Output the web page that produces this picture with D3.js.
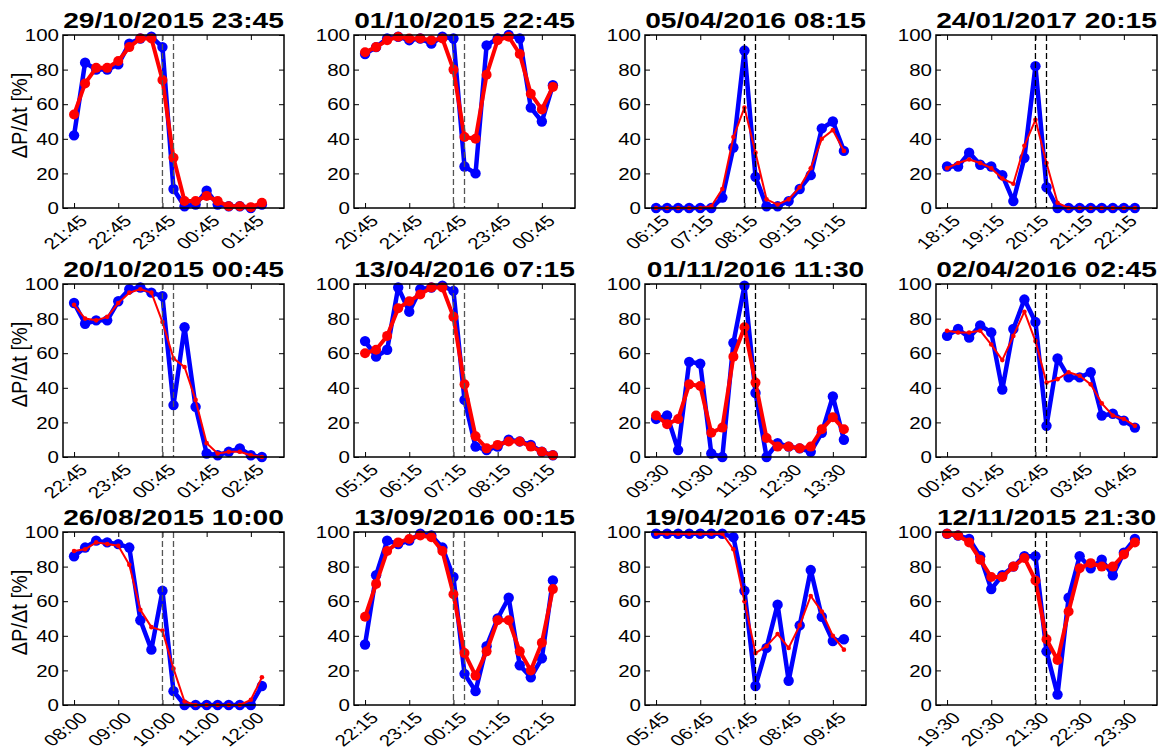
<!DOCTYPE html>
<html>
<head>
<meta charset="utf-8">
<script src="https://cdn.jsdelivr.net/npm/d3@7"></script>
<style>
  html, body { margin: 0; padding: 0; background: #fff; }
  svg { display: block; }
  text { font-family: "Liberation Sans", Arial, Helvetica, sans-serif; fill: #000; }
</style>
</head>
<body>
<svg id="chart" width="1158" height="753"></svg>
<script>
// ---------------- DATA ----------------
const titles = [
  "29/10/2015 23:45", "01/10/2015 22:45", "05/04/2016 08:15", "24/01/2017 20:15",
  "20/10/2015 00:45", "13/04/2016 07:15", "01/11/2016 11:30", "02/04/2016 02:45",
  "26/08/2015 10:00", "13/09/2016 00:15", "19/04/2016 07:45", "12/11/2015 21:30"
];
// time of the first sample in each panel (samples every 15 minutes)
const firstTimes = ["21:45","20:45","06:15","18:15","22:45","05:15","09:30","00:45","08:00","22:15","05:45","19:30"];
// index of the event (first dashed line); second dashed line is the next sample
const eventIndex = [8,8,8,8,8,8,8,8,8,8,8,8];
// red series drawn with thick line + big markers?
const redThick = [true,true,false,false,false,true,true,false,false,true,false,true];
const yTicks = [0,20,40,60,80,100];

const blue1  = [42,84,80,80,83,95,98,99,93,11,1,2,10,2,1,1,0,2];
const red1   = [54,72,81,81,85,93,98,98,74,29,4,4,7,4,1,1,0.5,3];
const blue2  = [89,93,98,99,97,98,95,99,98,24,20,94,98,100,98,58,50,71];
const red2   = [90,93,97,99,98,98,97,98,80,41,40,77,97,99,89,66,57,70];
const blue3  = [0,0,0,0,0,0,6,35,91,18,1,1,4,11,19,46,50,33];
const red3   = [0,0,0,0,0,1,11,41,58,32,5,2,5,12,23,40,45,33];
const blue4  = [24,24,32,25,24,19,4,29,82,12,0,0,0,0,0,0,0,0];
const red4   = [23,26,28,26,23,17,14,36,51,26,3,0,0,0,0,0,0,0];
const blue5  = [89,77,79,79,90,97,98,95,93,30,75,29,2,1,3,5,1,0];
const red5   = [88,80,79,81,89,95,97,95,78,57,52,33,8,2,3,3,1,0];
const blue6  = [67,58,62,98,84,97,98,99,96,33,6,4,6,10,9,7,3,1];
const red6   = [60,62,70,86,90,94,98,98,81,42,12,5,7,9,9,6,3,1];
const blue7  = [22,24,4,55,54,2,0,66,99,37,0,8,6,5,3,14,35,10];
const red7   = [24,19,22,42,41,14,17,58,75,43,11,6,6,5,6,16,23,16];
const blue8  = [70,74,69,76,72,39,74,91,78,18,57,46,46,49,24,25,21,17];
const red8   = [73,72,72,73,65,56,70,84,67,43,45,49,47,42,31,24,22,18];
const blue9  = [86,91,95,94,93,91,49,32,66,8,0,0,0,0,0,0,0,11];
const red9   = [89,90,94,93,92,81,55,45,43,21,2,0,0,0,0,0,3,16];
const blue10 = [35,75,95,93,95,99,98,91,74,18,8,34,50,62,23,16,27,72];
const red10  = [51,70,89,94,96,98,97,89,64,30,17,31,49,49,31,20,36,67];
const blue11 = [99,99,99,99,99,99,99,97,66,11,33,58,14,46,78,51,37,38];
const red11  = [99,99,99,99,99,99,99,90,60,30,34,41,33,46,63,54,40,32];
const blue12 = [99,98,96,86,67,75,80,86,86,31,6,62,86,79,84,75,88,96];
const red12  = [99,98,94,84,74,74,80,85,72,38,26,54,79,82,80,80,87,94];

const blueSeries = [blue1,blue2,blue3,blue4,blue5,blue6,blue7,blue8,blue9,blue10,blue11,blue12];
const redSeries  = [red1,red2,red3,red4,red5,red6,red7,red8,red9,red10,red11,red12];

// ---------------- LAYOUT ----------------
const colLeft = [63, 354, 645, 936];
const rowTop = [35, 284, 532];
const plotW = 221, plotH = 173;
const SX = 1.28; // horizontal text stretch of the original figure
const MIN = 60000;

const svg = d3.select("#chart");
const fmt = d3.utcFormat("%H:%M");

function parseStart(s) {
  const [h, m] = s.split(":").map(Number);
  return new Date(Date.UTC(2000, 0, 1, h, m));
}

titles.forEach((title, p) => {
  const r = Math.floor(p / 4), c = p % 4;
  const g = svg.append("g").attr("transform", `translate(${colLeft[c]},${rowTop[r]})`);
  const t0 = parseStart(firstTimes[p]);
  const blue = blueSeries[p], red = redSeries[p];
  const times = blue.map((_, i) => new Date(+t0 + i * 15 * MIN));

  const x = d3.scaleUtc()
    .domain([new Date(+t0 - 15 * MIN), new Date(+t0 + 285 * MIN)])
    .range([0, plotW]);
  const y = d3.scaleLinear().domain([0, 100]).range([plotH, 0]);
  const xTicks = d3.range(5).map(k => new Date(+t0 + k * 60 * MIN));

  // axes (ticks inward, MATLAB style)
  const gy = g.append("g").call(d3.axisLeft(y).tickValues(yTicks).tickSize(-5).tickPadding(4).tickSizeOuter(0));
  gy.select(".domain").remove();
  gy.selectAll("text").attr("x", 0).attr("dy", "0.36em")
    .attr("transform", `translate(-4,0) scale(${SX},1)`)
    .style("font-size", "16px");

  const gr = g.append("g").attr("transform", `translate(${plotW},0)`)
    .call(d3.axisRight(y).tickValues(yTicks).tickSize(-5).tickFormat(""));
  gr.select(".domain").remove();

  const gt = g.append("g").call(d3.axisTop(x).tickValues(xTicks).tickSize(-5).tickFormat(""));
  gt.select(".domain").remove();

  const gb = g.append("g").attr("transform", `translate(0,${plotH})`)
    .call(d3.axisBottom(x).tickValues(xTicks).tickSize(-5).tickFormat(fmt));
  gb.select(".domain").remove();
  gb.selectAll("text").attr("x", 0).attr("y", 0).attr("dy", 0)
    .attr("text-anchor", "end")
    .attr("transform", `translate(14,14) scale(${SX},1) rotate(-45)`)
    .style("font-size", "16px");

  g.selectAll(".tick line").attr("stroke", "#000").attr("stroke-width", 1);

  // series
  const line = d3.line().x((d, i) => x(times[i])).y(d => y(d));
  const clip = "clip" + p;
  g.append("clipPath").attr("id", clip).append("rect")
    .attr("x", 0).attr("y", -8).attr("width", plotW).attr("height", plotH + 16);
  const data = g.append("g").attr("clip-path", `url(#${clip})`);

  data.append("path").datum(blue).attr("d", line)
    .attr("fill", "none").attr("stroke", "#0000ff").attr("stroke-width", 4.5)
    .attr("stroke-linejoin", "round");
  data.selectAll(".bdot").data(blue).enter().append("circle")
    .attr("cx", (d, i) => x(times[i])).attr("cy", d => y(d))
    .attr("r", 5.2).attr("fill", "#0000ff");

  const thick = redThick[p];
  data.append("path").datum(red).attr("d", line)
    .attr("fill", "none").attr("stroke", "#ff0000").attr("stroke-width", thick ? 4 : 2)
    .attr("stroke-linejoin", "round");
  data.selectAll(".rdot").data(red).enter().append("circle")
    .attr("cx", (d, i) => x(times[i])).attr("cy", d => y(d))
    .attr("r", thick ? 5 : 2.3).attr("fill", "#ff0000");

  // event dashed lines
  const ev = [times[eventIndex[p]], times[eventIndex[p] + 1]];
  g.selectAll(".ev").data(ev).enter().append("line")
    .attr("x1", d => x(d)).attr("x2", d => x(d))
    .attr("y1", 0).attr("y2", plotH)
    .attr("stroke", c < 2 ? "#555" : "#000").attr("stroke-width", 1.3)
    .attr("stroke-dasharray", "6,3");

  // frame
  g.append("rect").attr("x", 0).attr("y", 0).attr("width", plotW).attr("height", plotH)
    .attr("fill", "none").attr("stroke", "#000").attr("stroke-width", 1.5);

  // title
  g.append("text")
    .attr("transform", `translate(${plotW / 2},-7) scale(${SX},1)`)
    .attr("text-anchor", "middle")
    .style("font-size", "22px").style("font-weight", "bold")
    .text(title);

  // y label on first column
  if (c === 0) {
    g.append("text")
      .attr("transform", `translate(-36,${plotH / 2 - 6}) scale(1.1,1) rotate(-90)`)
      .attr("text-anchor", "middle")
      .style("font-size", "20px")
      .text("ΔP/Δt [%]");
  }
});
</script>
</body>
</html>
